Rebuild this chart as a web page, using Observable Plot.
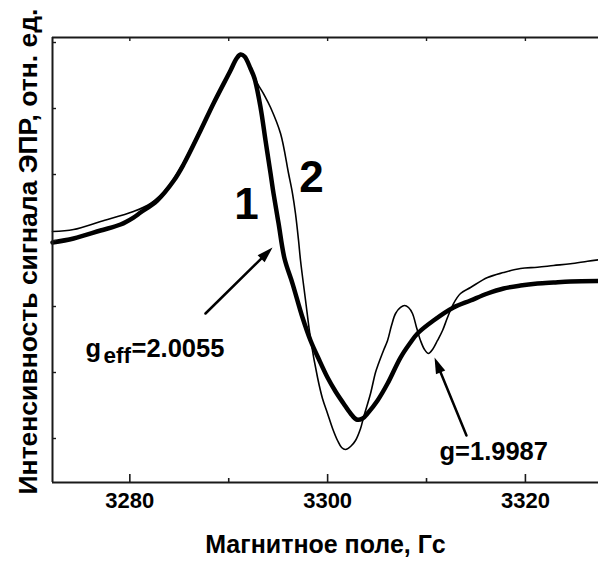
<!DOCTYPE html>
<html><head><meta charset="utf-8">
<script src="https://cdn.jsdelivr.net/npm/d3@7"></script>
<script src="https://cdn.jsdelivr.net/npm/@observablehq/plot@0.6"></script>
<style>body{margin:0;background:#fff}</style>
</head><body><div id="chart"></div>
<script>
// Curve 1 (thick)
const field1 = [3272.18,3274.31,3277.04,3279.06,3280.37,3281.08,3282.77,3284.45,3285.43,3287.15,3288.46,3290.18,3290.79,3291.19,3291.60,3292.20,3292.61,3293.22,3293.72,3294.23,3294.53,3295.04,3295.64,3296.45,3297.46,3298.27,3299.08,3299.99,3300.80,3301.61,3302.32,3302.92,3303.53,3304.03,3305.05,3306.06,3307.37,3308.38,3309.09,3310.71,3312.73,3314.45,3316.17,3317.79,3319.50,3321.22,3322.84,3324.56,3327.39];
const signal1 = [29.70,30.30,31.52,32.42,33.48,34.24,36.06,39.09,41.52,46.67,50.76,55.76,57.58,58.18,57.88,56.06,54.55,50.15,45.15,40.15,37.12,32.58,27.27,23.48,18.33,14.85,12.12,9.24,7.12,5.30,3.79,2.88,3.03,3.79,5.76,8.33,12.27,14.55,15.91,17.88,19.85,20.91,21.97,22.73,23.18,23.48,23.64,23.79,23.86];
// Curve 2 (thin)
const field2 = [3272.18,3274.31,3277.04,3280.37,3282.09,3283.81,3285.43,3287.15,3288.87,3290.18,3290.79,3291.19,3291.70,3292.41,3292.91,3293.62,3294.23,3295.24,3296.05,3296.45,3296.75,3297.06,3297.26,3297.77,3298.27,3298.98,3299.48,3299.99,3300.50,3301.00,3301.41,3301.81,3302.32,3302.82,3303.33,3303.63,3304.34,3304.84,3305.15,3305.65,3306.06,3306.46,3306.87,3307.37,3307.78,3308.18,3308.58,3308.99,3309.39,3309.80,3310.20,3310.61,3311.11,3311.62,3312.12,3312.73,3313.44,3314.45,3316.17,3317.79,3319.50,3321.22,3322.84,3324.56,3326.28,3327.39];
const signal2 = [31.36,31.67,32.88,34.39,35.61,38.03,41.82,46.97,51.97,56.06,57.73,58.18,57.58,55.45,53.79,51.97,50.15,46.21,40.15,37.12,34.09,30.00,26.97,20.91,15.15,9.24,6.06,3.79,1.52,-0.30,-1.36,-1.67,-1.21,-0.30,1.52,3.18,6.82,10.00,11.36,13.33,14.85,17.12,18.94,19.85,20.15,19.85,18.94,16.82,14.85,13.48,12.88,13.48,14.85,16.36,18.33,20.45,21.97,22.88,24.39,25.15,25.76,25.95,26.21,26.47,26.86,27.08];

const xTickLabels = [3280, 3300, 3320];
const xMinorTicks = [3290, 3310];
const xTopTicks = [3280, 3290, 3300, 3310, 3320];
const yTicks = [0, 10, 20, 30, 40, 50, 60];
const xTitle = "Магнитное поле, Гс";
const yTitle = "Интенсивность сигнала ЭПР, отн. ед.";
const curveLabels = [{x: 3291.80, y: 33.33, text: "1"}, {x: 3298.37, y: 37.42, text: "2"}];
const gMain = [{x: 3275.52, y: 12.42, text: "g"}, {x: 3280.17, y: 12.42, text: "=2.0055"}, {x: 3311.31, y: -3.33, text: "g=1.9987"}];
const gSub = [{x: 3277.34, y: 11.41, text: "eff"}];
const arrows = [
  {x1: 3287.65, y1: 18.94, x2: 3294.43, y2: 28.94},
  {x1: 3314.04, y1: 0.45, x2: 3310.81, y2: 12.27}
];

const xDomain = [3272.18, 3327.39], yDomain = [-6.667, 60.76];
const W = 598, H = 561, mL = 52, mR = 0, mT = 37, mB = 79;
const fw = W - mL - mR, fh = H - mT - mB;
const kx = fw / (xDomain[1] - xDomain[0]), ky = fh / (yDomain[1] - yDomain[0]);

const s1 = field1.map((x, i) => ({x, y: signal1[i]}));
const s2 = field2.map((x, i) => ({x, y: signal2[i]}));
const heads = arrows.map(a => {
  const sx = (a.x2 - a.x1) * kx, sy = -(a.y2 - a.y1) * ky;
  return {x: a.x2, y: a.y2, angle: Math.atan2(sx, -sy) * 180 / Math.PI};
});
const headSymbol = {draw(ctx, size) {
  const r = Math.sqrt(size / Math.PI);
  ctx.moveTo(0, 0); ctx.lineTo(r, 3.2 * r); ctx.lineTo(-r, 3.2 * r); ctx.closePath();
}};

const ax = "#1a1a1a";
const chart = Plot.plot({
  width: W, height: H,
  marginLeft: mL, marginRight: mR, marginTop: mT, marginBottom: mB,
  style: {fontFamily: "'Liberation Sans', Arial, sans-serif", background: "#fff", overflow: "visible"},
  x: {domain: xDomain, axis: null},
  y: {domain: yDomain, axis: null},
  marks: [
    Plot.line(s2, {x: "x", y: "y", stroke: "#000", strokeWidth: 1.6, curve: "catmull-rom"}),
    Plot.line(s1, {x: "x", y: "y", stroke: "#000", strokeWidth: 4.5, curve: "catmull-rom"}),
    Plot.ruleY([yDomain[0], yDomain[1]], {stroke: ax, strokeWidth: 2}),
    Plot.ruleX([xDomain[0]], {stroke: ax, strokeWidth: 2}),
    Plot.ruleX(xTickLabels, {x: d => d, stroke: ax, strokeWidth: 1.6, insetTop: fh - 8}),
    Plot.ruleX(xMinorTicks, {x: d => d, stroke: ax, strokeWidth: 1.6, insetTop: fh - 4}),
    Plot.ruleX(xTopTicks, {x: d => d, stroke: ax, strokeWidth: 1.4, insetBottom: fh - 4}),
    Plot.ruleY(yTicks, {y: d => d, stroke: ax, strokeWidth: 1.4, insetRight: fw - 4}),
    Plot.axisX(xTickLabels, {tickSize: 0, tickPadding: 10, tickFormat: d => String(d), fontSize: 22, fontWeight: "bold", fill: "#000", label: null}),
    Plot.text([xTitle], {text: d => d, frameAnchor: "bottom", dy: 70, lineAnchor: "bottom", fontSize: 25, fontWeight: "bold", fill: "#000"}),
    Plot.text([yTitle], {text: d => d, frameAnchor: "left", rotate: -90, dx: -16, dy: -8.5, textAnchor: "middle", lineAnchor: "bottom", fontSize: 26.5, fontWeight: "bold", fill: "#000"}),
    Plot.text(curveLabels, {x: "x", y: "y", text: "text", fontSize: 44, fontWeight: "bold", lineAnchor: "bottom", fill: "#000"}),
    Plot.text(gMain, {x: "x", y: "y", text: "text", fontSize: 25.5, fontWeight: "bold", textAnchor: "start", lineAnchor: "bottom", fill: "#000"}),
    Plot.text(gSub, {x: "x", y: "y", text: "text", fontSize: 22.5, fontWeight: "bold", textAnchor: "start", lineAnchor: "bottom", fill: "#000"}),
    Plot.arrow(arrows, {x1: "x1", y1: "y1", x2: "x2", y2: "y2", headLength: 0, insetEnd: 8, stroke: "#000", strokeWidth: 2.5}),
    Plot.dot(heads, {x: "x", y: "y", rotate: "angle", symbol: headSymbol, r: 5, fill: "#000", stroke: "none"})
  ]
});
document.getElementById("chart").appendChild(chart);
</script>
</body></html>
